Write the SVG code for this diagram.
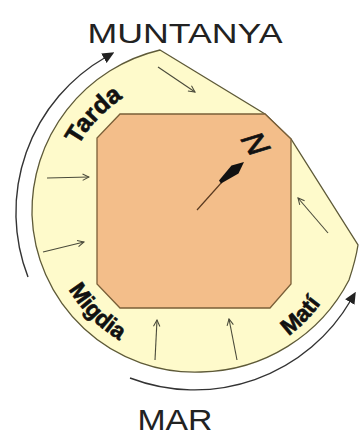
<svg xmlns="http://www.w3.org/2000/svg" xmlns:xlink="http://www.w3.org/1999/xlink" width="359" height="435" viewBox="0 0 359 435">
<style>
.title{font-family:"Liberation Sans",Arial,sans-serif;font-size:28px;fill:#222}
.lbl{font-family:"Liberation Sans",Arial,sans-serif;font-size:23px;font-weight:bold;fill:#111;stroke:#111;stroke-width:0.6}
.small{fill:none;stroke:#4a4a3a;stroke-width:1.1;marker-end:url(#vh)}
.orbit{fill:none;stroke:#333;stroke-width:1.4;marker-end:url(#fh)}
</style>
<defs>
<marker id="vh" viewBox="0 0 10 10" refX="9" refY="5" markerWidth="8" markerHeight="8" markerUnits="userSpaceOnUse" orient="auto">
<path d="M1,1 L9,5 L1,9" fill="none" stroke="#4a4a3a" stroke-width="1.3"/>
</marker>
<marker id="fh" viewBox="0 0 10 10" refX="2" refY="5" markerWidth="12" markerHeight="12" markerUnits="userSpaceOnUse" orient="auto">
<path d="M0,0.5 L10,5 L0,9.5 Z" fill="#222"/>
</marker>
<path id="pTarda" d="M61,212 A136,136 0 0 1 197,76"/>
<path id="pMigdia" d="M47,212 A150,150 0 0 0 197,362"/>
<path id="pMati" d="M197,366 A154,154 0 0 0 351,212"/>
</defs>
<rect width="359" height="435" fill="#fff"/>
<g id="terrain">
<path d="M160,50 L265,114 L291,139 L358,245 C356,258 353,268 349,280 A170,170 0 0 1 201,372 A163,163 0 0 1 32,215 A166,166 0 0 1 160,50 Z" fill="#fefacb" stroke="#5e5a38" stroke-width="1.3"/>
</g>
<g id="building">
<polygon points="120,114 265,114 291,139 291,284 270,308 120,308 97,284 97,138" fill="#f3be8a" stroke="#7a5f38" stroke-width="1.3"/>
</g>
<g id="connectors">
<path class="orbit" d="M28,277 A179,179 0 0 1 106,57"/>
<path class="orbit" d="M130,378 A181,181 0 0 0 351,300"/>
<line class="small" x1="158" y1="67" x2="195" y2="92"/>
<line class="small" x1="47" y1="178" x2="89" y2="177"/>
<line class="small" x1="43" y1="252" x2="84" y2="242"/>
<line class="small" x1="155" y1="360" x2="157" y2="320"/>
<line class="small" x1="237" y1="360" x2="229" y2="319"/>
<line class="small" x1="328" y1="233" x2="298" y2="198"/>
</g>
<g id="north">
<line x1="197" y1="210" x2="222" y2="182" stroke="#5a3a20" stroke-width="1.2"/>
<polygon points="244,162 238.5,173.5 221,183.5 219,180.5 231.5,165.5" fill="#111"/>
<text style="font-family:'Liberation Sans',Arial,sans-serif;font-size:31px;fill:#111;stroke:#111;stroke-width:0.8" text-anchor="middle" dominant-baseline="central" transform="translate(256,144) rotate(58) skewX(-15)">N</text>
</g>
<g id="labels">
<text class="title" x="185" y="43" text-anchor="middle" textLength="195" lengthAdjust="spacingAndGlyphs">MUNTANYA</text>
<text class="title" style="font-size:29px" x="175" y="430" text-anchor="middle" textLength="75" lengthAdjust="spacingAndGlyphs">MAR</text>
<text class="lbl" style="font-size:25px"><textPath xlink:href="#pTarda" startOffset="48%" text-anchor="middle">Tarda</textPath></text>
<text class="lbl"><textPath xlink:href="#pMigdia" startOffset="50%" text-anchor="middle">Migdia</textPath></text>
<text class="lbl"><textPath xlink:href="#pMati" startOffset="50%" text-anchor="middle">Matí</textPath></text>
</g>
</svg>
